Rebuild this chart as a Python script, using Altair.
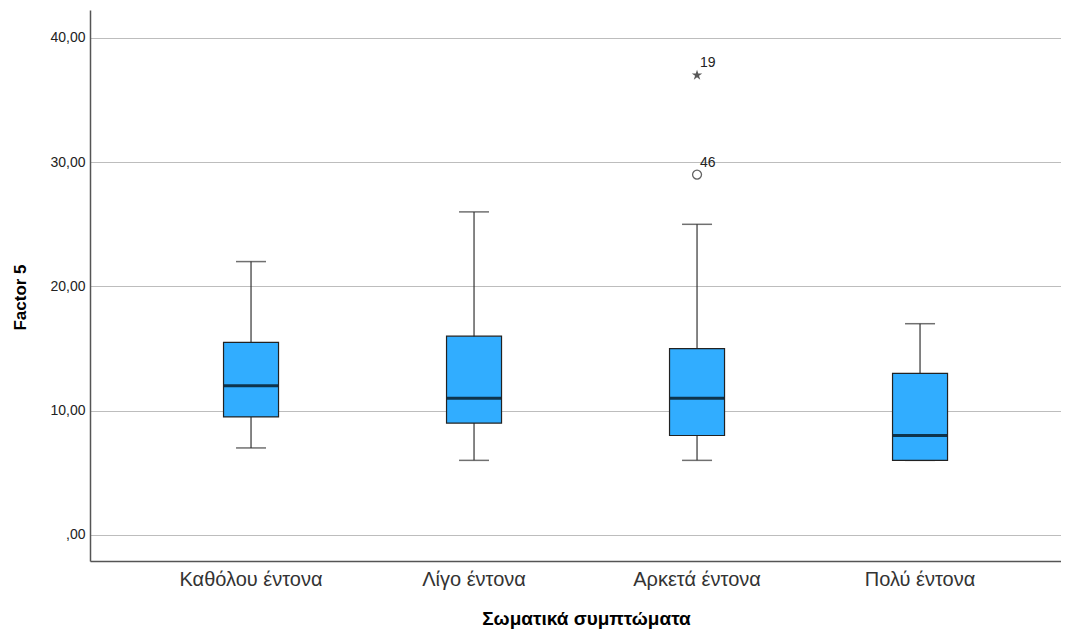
import altair as alt
import pandas as pd

groups = ["Καθόλου έντονα", "Λίγο έντονα", "Αρκετά έντονα", "Πολύ έντονα"]
whisker_low = [7, 6, 6, 6]
q1 = [9.5, 9, 8, 6]
median = [12, 11, 11, 8]
q3 = [15.5, 16, 15, 13]
whisker_high = [22, 26, 25, 17]

outlier_group = ["Αρκετά έντονα", "Αρκετά έντονα"]
outlier_value = [29, 37]
outlier_case = ["46", "19"]
outlier_kind = ["circle", "star"]

box = pd.DataFrame({"g": groups, "lo": whisker_low, "q1": q1, "med": median,
                    "q3": q3, "hi": whisker_high})
out = pd.DataFrame({"g": outlier_group, "v": outlier_value,
                    "case": outlier_case, "kind": outlier_kind})

FONT = "Liberation Sans"
W, H = 971, 551

xs = alt.Scale(domain=groups, paddingInner=0, paddingOuter=0.1771, align=0.627)
ys = alt.Scale(domain=[-2.1, 42.25], nice=False, zero=False)

x_axis = alt.Axis(title="Σωματικά συμπτώματα", labelAngle=0, ticks=False,
                  labelPadding=8, labelFontSize=20, labelColor="#333333",
                  labelFont=FONT, titleFont=FONT, titleFontSize=19,
                  titleFontWeight="bold", titleColor="#000000",
                  titleX=496, titleY=57, titleBaseline="middle",
                  domainColor="#555555", domainWidth=1.5, grid=False)
y_axis = alt.Axis(title="Factor 5", values=[0, 10, 20, 30, 40], ticks=False,
                  labelPadding=5, labelFontSize=14, labelColor="#222222",
                  labelFont=FONT, titleFont=FONT, titleFontSize=17,
                  titleFontWeight="bold", titleColor="#000000",
                  titleX=-70, titleY=287, titleAlign="center",
                  titleBaseline="middle", titleAngle=-90,
                  labelExpr="datum.value == 0 ? ',00' : replace(format(datum.value, '.2f'), '.', ',')",
                  domainColor="#555555", domainWidth=1.5, grid=True,
                  gridColor="#bdbdbd", gridWidth=1)

base = alt.Chart(box)

whisk = base.mark_rule(color="#333333", strokeWidth=1.2).encode(
    x=alt.X("g:N", scale=xs, axis=x_axis, sort=groups),
    y=alt.Y("lo:Q", scale=ys, axis=y_axis),
    y2="hi:Q",
)
caps_lo = base.mark_tick(color="#333333", size=30, thickness=1.5).encode(
    x=alt.X("g:N", scale=xs, sort=groups), y=alt.Y("lo:Q", scale=ys))
caps_hi = base.mark_tick(color="#333333", size=30, thickness=1.5).encode(
    x=alt.X("g:N", scale=xs, sort=groups), y=alt.Y("hi:Q", scale=ys))
bars = base.mark_bar(size=55, fill="#31adff", stroke="#222222", strokeWidth=1.2).encode(
    x=alt.X("g:N", scale=xs, sort=groups), y=alt.Y("q1:Q", scale=ys), y2="q3:Q")
med = base.mark_tick(color="#000000", size=54, thickness=3).encode(
    x=alt.X("g:N", scale=xs, sort=groups), y=alt.Y("med:Q", scale=ys))

ob = alt.Chart(out)
circ = ob.transform_filter("datum.kind == 'circle'").mark_point(
    shape="circle", size=80, filled=False, color="#222222", strokeWidth=1.3).encode(
    x=alt.X("g:N", scale=xs, sort=groups), y=alt.Y("v:Q", scale=ys))
star_path = ("M0,-1L0.2245,-0.309L0.951,-0.309L0.363,0.118L0.588,0.809L0,0.382"
             "L-0.588,0.809L-0.363,0.118L-0.951,-0.309L-0.2245,-0.309Z")
star = ob.transform_filter("datum.kind == 'star'").mark_point(
    shape=star_path, size=120, filled=True, color="#111111").encode(
    x=alt.X("g:N", scale=xs, sort=groups), y=alt.Y("v:Q", scale=ys))
labels = ob.mark_text(align="left", baseline="middle", dx=3, dy=-12,
                      fontSize=14, font=FONT, color="#222222").encode(
    x=alt.X("g:N", scale=xs, sort=groups), y=alt.Y("v:Q", scale=ys), text="case:N")

chart = alt.layer(whisk, caps_lo, caps_hi, bars, med, circ, star, labels).properties(
    width=W, height=H,
    autosize=alt.AutoSizeParams(type="none"),
    padding={"left": 82, "top": 2, "right": 0, "bottom": 69},
).configure_view(stroke=None)

chart.save("out.html", embed_options={"renderer": "svg", "actions": False})
